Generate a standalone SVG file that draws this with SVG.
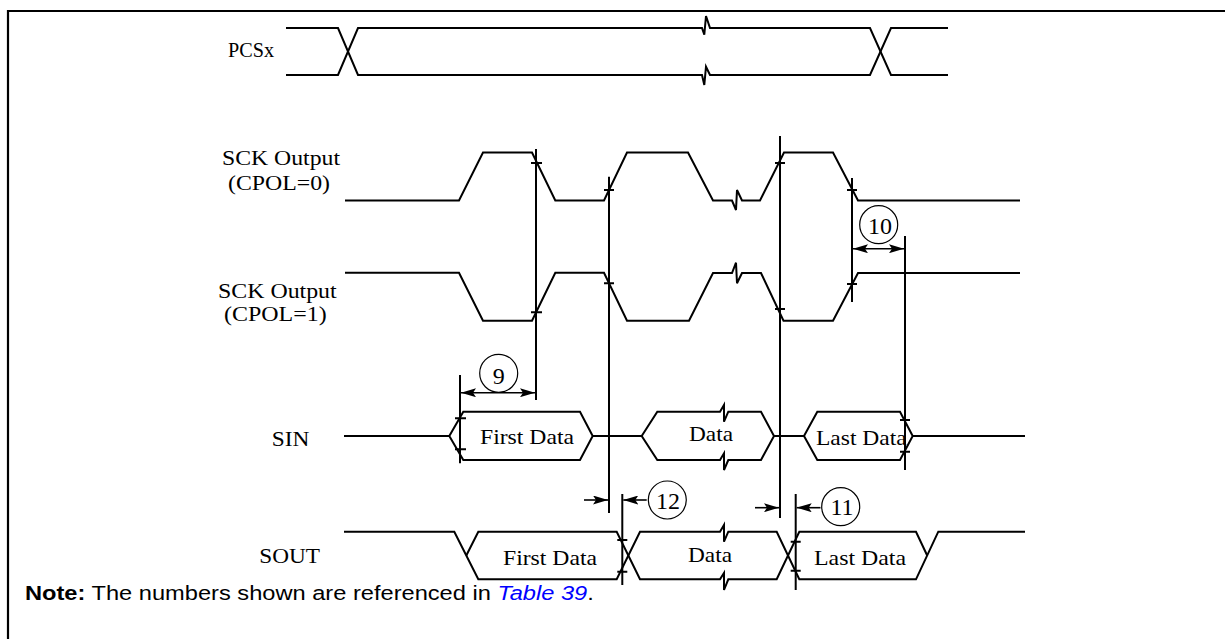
<svg xmlns="http://www.w3.org/2000/svg" width="1225" height="639" viewBox="0 0 1225 639">
<style>
.sig{fill:none;stroke:#000;stroke-width:2;stroke-linejoin:miter}
.v{stroke:#000;stroke-width:2;fill:none}
.tk{stroke:#000;stroke-width:2}
.lbl{font-family:"Liberation Serif","Times New Roman",serif;font-size:22px;fill:#000}
.num{font-family:"Liberation Serif","Times New Roman",serif;font-size:24px;fill:#000;text-anchor:middle}
.circ{fill:none;stroke:#000;stroke-width:1.2}
.arr{stroke:#000;stroke-width:1.6;fill:none}
.note{font-family:"Liberation Sans",Arial,sans-serif;font-size:19.5px;fill:#000}
</style>
<defs>
<marker id="ah" markerWidth="15" markerHeight="9" refX="15" refY="4.5" orient="auto-start-reverse" markerUnits="userSpaceOnUse">
<path d="M0,0 L15,4.5 L0,9 L3,4.5 z" fill="#000"/>
</marker>
</defs>
<rect width="1225" height="639" fill="#fff"/>
<path d="M8,639 V11 H1225" fill="none" stroke="#000" stroke-width="2.2"/>

<g id="pcsx">
<text class="lbl" x="228" y="57" font-size="22.5" textLength="46" lengthAdjust="spacingAndGlyphs">PCSx</text>
<path class="sig" d="M286,28 H338 L358,75 H702 L704.3,85 L706,66.7 L710,75 H870 L891,28 H948"/>
<path class="sig" d="M286,75 H338 L358,28 H702 L704.3,34.7 L706,16 L710,28 H870 L891,75 H948"/>
</g>

<g id="sck0">
<text class="lbl" x="222" y="165" textLength="118" lengthAdjust="spacingAndGlyphs">SCK Output</text>
<text class="lbl" x="228" y="190" textLength="102" lengthAdjust="spacingAndGlyphs">(CPOL=0)</text>
<path class="sig" d="M345,200.5 H459 L483,152.5 H532 L555.3,200.5 H604 L627,152.5 H688 L713,200.5 H732 L736,210 L737,190 L742,200.5 H760 L784,152.5 H833 L858,200.5 H1020"/>
</g>

<g id="sck1">
<text class="lbl" x="218" y="298" textLength="118.7" lengthAdjust="spacingAndGlyphs">SCK Output</text>
<text class="lbl" x="224" y="321" textLength="102.7" lengthAdjust="spacingAndGlyphs">(CPOL=1)</text>
<path class="sig" d="M345,272.7 H459 L483,320.7 H532 L555.3,272.7 H604 L627,320.7 H689 L713,273 H732 L736,262.7 L737,283.3 L742,273 H761 L783.5,320.7 H833 L858,273 H1020"/>
</g>

<g id="sin">
<text class="lbl" x="271.7" y="446" textLength="37.6" lengthAdjust="spacingAndGlyphs">SIN</text>
<path class="sig" d="M344,436 H449.3"/>
<path class="sig" d="M449.3,436 L463.3,411.7 H580 L592.7,436 L580,460 H463.3 Z"/>
<path class="sig" d="M592.7,436 H641.7"/>
<path class="sig" d="M641.7,436 L657.3,411.7 H720 L724,405 L724,421.7 L728.3,411.7 H761 L774,436 L761,460 H728.3 L724,470 L724,453.3 L720,460 H657.3 Z"/>
<path class="sig" d="M774,436 H804"/>
<path class="sig" d="M804,436 L817.3,411.7 H900 L912.7,436 L900,460 H817.3 Z"/>
<path class="sig" d="M912.7,436 H1025"/>
<text class="lbl" x="480" y="444" textLength="94" lengthAdjust="spacingAndGlyphs">First Data</text>
<text class="lbl" x="689" y="441" textLength="44" lengthAdjust="spacingAndGlyphs">Data</text>
<text class="lbl" x="816" y="445" textLength="90.7" lengthAdjust="spacingAndGlyphs">Last Data</text>
</g>

<g id="sout">
<text class="lbl" x="259.3" y="562.7" textLength="60.7" lengthAdjust="spacingAndGlyphs">SOUT</text>
<path class="sig" d="M344,531.7 H454.3 L478.3,579.3 H616.7 L640,531.7 H720 L724,525 L724,541.7 L728.3,531.7 H776.7 L799.3,579.3 H916 L938.3,531.7 H1025"/>
<path class="sig" d="M466.3,555.5 L478.3,531.7 H616.7 L640,579.3 H720 L724,573 L724,590 L728.3,579.3 H776.7 L799.3,531.7 H916 L927.2,555.5"/>
<text class="lbl" x="503" y="565" textLength="94" lengthAdjust="spacingAndGlyphs">First Data</text>
<text class="lbl" x="688" y="562" textLength="44" lengthAdjust="spacingAndGlyphs">Data</text>
<text class="lbl" x="814" y="565" textLength="92" lengthAdjust="spacingAndGlyphs">Last Data</text>
</g>

<g id="connectors">
<path class="v" d="M460,375 V463.3 M536,149 V400 M609,176.7 V513 M780,136 V518 M852,178 V302 M905,236 V470 M622.3,494 V585 M795.7,494 V590"/>
<path class="tk" d="M455,418.3 H466 M455,449.3 H466 M531,163 H542 M531,312.3 H542 M604,190 H614 M604,283.3 H614 M775,163 H785 M775,309 H785 M847,190 H857 M847,284 H857 M900,420 H910 M900,451.7 H910 M617.3,540 H627.3 M617.3,571.7 H627.3 M790.7,541.7 H800.7 M790.7,570.7 H800.7"/>
<path class="arr" d="M461,392.7 H535" marker-start="url(#ah)" marker-end="url(#ah)"/>
<path class="arr" d="M853,248.7 H904" marker-start="url(#ah)" marker-end="url(#ah)"/>
<path class="arr" d="M584,500 H608" marker-end="url(#ah)"/>
<path class="arr" d="M646.7,500 H623.3" marker-end="url(#ah)"/>
<path class="arr" d="M755,507.7 H779" marker-end="url(#ah)"/>
<path class="arr" d="M820.5,507.7 H796.7" marker-end="url(#ah)"/>
</g>

<g id="t9"><circle class="circ" cx="498.7" cy="373.3" r="19"/><text class="num" x="498.7" y="383.5">9</text></g>
<g id="t10"><circle class="circ" cx="878.7" cy="224.7" r="19"/><text class="num" x="880" y="233.5">10</text></g>
<g id="t12"><circle class="circ" cx="667.3" cy="500" r="19"/><text class="num" x="668" y="508.5">12</text></g>
<g id="t11"><circle class="circ" cx="840.7" cy="506.7" r="19"/><text class="num" x="842" y="515">11</text></g>

<g id="note" transform="translate(25,599.5) scale(1.213,1)">
<text class="note" x="0" y="0"><tspan font-weight="bold">Note:</tspan> The numbers shown are referenced in <tspan fill="#0000ff" font-style="italic">Table 39</tspan>.</text>
</g>
</svg>
